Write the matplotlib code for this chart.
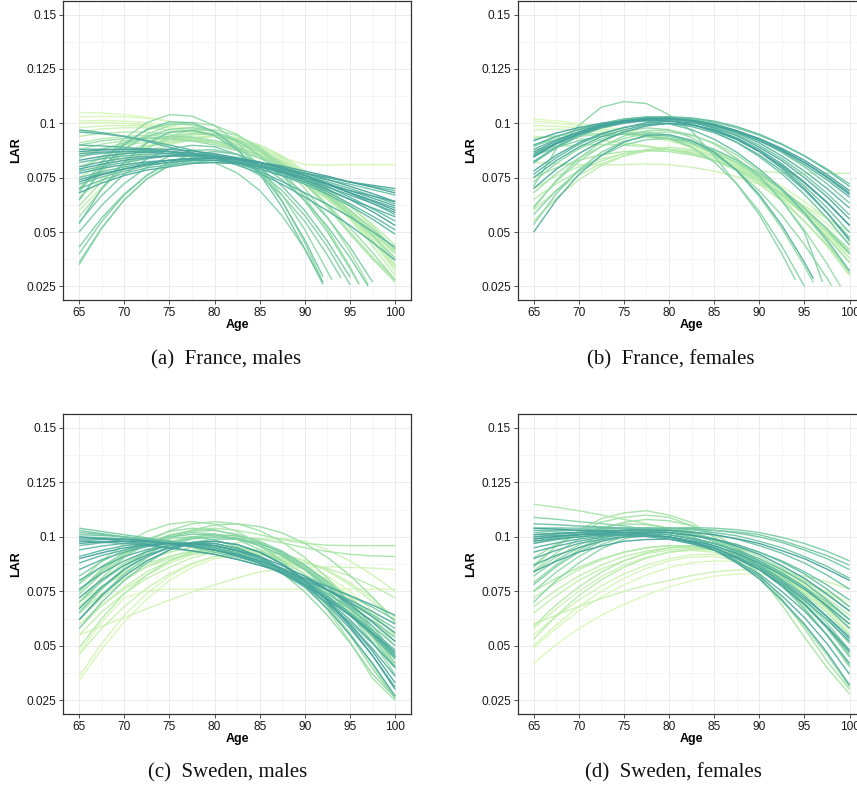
import matplotlib
matplotlib.use("Agg")
import matplotlib.pyplot as plt
from matplotlib.colors import LinearSegmentedColormap

# ---------------- data ----------------
age_grid = [65, 67.5, 70, 72.5, 75, 77.5, 80, 82.5, 85, 87.5, 90, 92.5, 95, 97.5, 100]
x_ticks = [65, 70, 75, 80, 85, 90, 95, 100]
y_ticks = [0.025, 0.05, 0.075, 0.1, 0.125, 0.15]
y_ticklabels = ["0.025", "0.05", "0.075", "0.1", "0.125", "0.15"]
captions = ["(a)  France, males", "(b)  France, females",
            "(c)  Sweden, males", "(d)  Sweden, females"]

# France, males (earliest year -> latest year); last value sits at the end age
fm_curves = [
    [0.105, 0.1048, 0.104, 0.1028, 0.101, 0.0989, 0.096, 0.092, 0.087, 0.081, 0.074, 0.0655, 0.056, 0.0459, 0.035],
    [0.103, 0.1032, 0.103, 0.1023, 0.101, 0.0989, 0.096, 0.0925, 0.088, 0.082, 0.075, 0.0671, 0.058, 0.0485, 0.038],
    [0.101, 0.1013, 0.101, 0.1003, 0.099, 0.0974, 0.095, 0.0918, 0.088, 0.0842, 0.081, 0.0808, 0.081, 0.081, 0.081],
    [0.100, 0.1003, 0.100, 0.0993, 0.098, 0.0963, 0.094, 0.0905, 0.086, 0.0805, 0.074, 0.0670, 0.059, 0.0500, 0.040],
    [0.098, 0.0988, 0.099, 0.0988, 0.098, 0.0964, 0.094, 0.0905, 0.086, 0.0801, 0.073, 0.0652, 0.056, 0.0452, 0.033],
    [0.096, 0.0974, 0.098, 0.0979, 0.097, 0.0959, 0.094, 0.0910, 0.087, 0.0816, 0.075, 0.0679, 0.060, 0.0514, 0.042],
    [0.070, 0.0778, 0.084, 0.0888, 0.092, 0.0945, 0.095, 0.0935, 0.090, 0.0844, 0.077, 0.0684, 0.058, 0.0458, 0.032],
    [0.060, 0.0705, 0.079, 0.0855, 0.090, 0.0929, 0.094, 0.0930, 0.090, 0.0850, 0.078, 0.0698, 0.060, 0.0484, 0.035],
    [0.066, 0.0741, 0.081, 0.0867, 0.091, 0.0934, 0.094, 0.0925, 0.089, 0.0835, 0.076, 0.0668, 0.056, 0.0437, 0.030],
    [0.075, 0.0811, 0.086, 0.0896, 0.092, 0.0935, 0.094, 0.0918, 0.088, 0.0825, 0.075, 0.0667, 0.057, 0.0462, 0.034],
    [0.086, 0.0883, 0.090, 0.0913, 0.092, 0.0919, 0.091, 0.0890, 0.086, 0.0816, 0.076, 0.0695, 0.062, 0.0535, 0.044],
    [0.080, 0.0839, 0.087, 0.0894, 0.091, 0.0919, 0.092, 0.0902, 0.087, 0.0826, 0.077, 0.0701, 0.062, 0.0526, 0.042],
    [0.094, 0.0954, 0.096, 0.0959, 0.095, 0.0934, 0.091, 0.0879, 0.084, 0.0786, 0.072, 0.0650, 0.057, 0.0476, 0.037],
    [0.091, 0.0929, 0.094, 0.0944, 0.094, 0.0929, 0.091, 0.0880, 0.084, 0.0790, 0.073, 0.0660, 0.058, 0.0494, 0.040],
    [0.088, 0.0904, 0.092, 0.0929, 0.093, 0.0925, 0.091, 0.0885, 0.085, 0.0801, 0.074, 0.0670, 0.059, 0.0504, 0.041],
    [0.070, 0.0790, 0.086, 0.0910, 0.094, 0.0954, 0.095, 0.0925, 0.088, 0.0815, 0.073, 0.0624, 0.050, 0.0385, 0.028],
    [0.062, 0.0732, 0.082, 0.0886, 0.093, 0.0951, 0.095, 0.0925, 0.088, 0.0812, 0.072, 0.0615, 0.049, 0.0375, 0.027],
    [0.057, 0.0697, 0.080, 0.0882, 0.094, 0.0969, 0.097, 0.0944, 0.089, 0.0807, 0.070, 0.0568, 0.041, 0.026],
    [0.065, 0.0780, 0.088, 0.0949, 0.099, 0.1004, 0.099, 0.0949, 0.088, 0.0784, 0.066, 0.0514, 0.034, 0.026],
    [0.078, 0.0848, 0.090, 0.0938, 0.096, 0.0964, 0.095, 0.0918, 0.087, 0.0804, 0.072, 0.0627, 0.052, 0.0405, 0.028],
    [0.084, 0.0880, 0.091, 0.0931, 0.094, 0.0937, 0.092, 0.0891, 0.085, 0.0801, 0.074, 0.0665, 0.058, 0.0485, 0.038],
    [0.090, 0.0919, 0.093, 0.0934, 0.093, 0.0919, 0.090, 0.0875, 0.084, 0.0795, 0.074, 0.0675, 0.060, 0.0515, 0.042],
    [0.068, 0.0823, 0.093, 0.1003, 0.104, 0.1033, 0.099, 0.0913, 0.080, 0.0643, 0.045, 0.027],
    [0.0698, 0.0819, 0.091, 0.0969, 0.0998, 0.0994, 0.096, 0.0894, 0.0798, 0.0669, 0.051, 0.028],
    [0.0692, 0.0800, 0.0882, 0.0940, 0.0972, 0.0980, 0.0962, 0.0920, 0.0852, 0.0760, 0.0642, 0.0500, 0.0332, 0.026],
    [0.035, 0.0517, 0.0648, 0.0744, 0.0804, 0.0829, 0.0819, 0.0772, 0.0691, 0.0574, 0.0421, 0.027],
    [0.036, 0.0519, 0.0648, 0.0744, 0.0810, 0.0844, 0.0848, 0.0819, 0.0760, 0.0669, 0.0548, 0.0394, 0.0288],
    [0.0399, 0.0549, 0.0670, 0.0761, 0.0822, 0.0855, 0.0858, 0.0831, 0.0775, 0.0690, 0.0576, 0.0432, 0.0258],
    [0.0431, 0.0565, 0.0675, 0.0760, 0.0821, 0.0858, 0.0870, 0.0858, 0.0821, 0.0760, 0.0675, 0.0565, 0.0431, 0.0270],
    [0.050, 0.0623, 0.0723, 0.0798, 0.0849, 0.0876, 0.0878, 0.0856, 0.0810, 0.0740, 0.0645, 0.0526, 0.0383, 0.0251],
    [0.0545, 0.0668, 0.0766, 0.0836, 0.0881, 0.0899, 0.0892, 0.0857, 0.0797, 0.0710, 0.0598, 0.0458, 0.0293],
    [0.0538, 0.0699, 0.0823, 0.0909, 0.0958, 0.0969, 0.0943, 0.0879, 0.0778, 0.0639, 0.0463, 0.0295],
    [0.0647, 0.0793, 0.0902, 0.0973, 0.1007, 0.1003, 0.0962, 0.0883, 0.0767, 0.0613, 0.0422, 0.026],
    [0.072, 0.0753, 0.078, 0.0805, 0.082, 0.0829, 0.083, 0.0824, 0.081, 0.0792, 0.077, 0.0750, 0.073, 0.0710, 0.069],
    [0.070, 0.0739, 0.077, 0.0795, 0.081, 0.0819, 0.082, 0.0814, 0.080, 0.0782, 0.076, 0.0740, 0.072, 0.0695, 0.067],
    [0.075, 0.0777, 0.080, 0.0818, 0.083, 0.0839, 0.084, 0.0829, 0.081, 0.0788, 0.076, 0.0731, 0.070, 0.0666, 0.063],
    [0.078, 0.0802, 0.082, 0.0837, 0.085, 0.0854, 0.085, 0.0839, 0.082, 0.0794, 0.076, 0.0724, 0.068, 0.0632, 0.058],
    [0.082, 0.0837, 0.085, 0.0858, 0.086, 0.0858, 0.085, 0.0833, 0.081, 0.0784, 0.075, 0.0709, 0.066, 0.0607, 0.055],
    [0.085, 0.0862, 0.087, 0.0873, 0.087, 0.0863, 0.085, 0.0829, 0.080, 0.0771, 0.073, 0.0684, 0.063, 0.0573, 0.051],
    [0.090, 0.0896, 0.089, 0.0881, 0.087, 0.0857, 0.084, 0.0818, 0.079, 0.0758, 0.072, 0.0674, 0.062, 0.0559, 0.049],
    [0.096, 0.0952, 0.094, 0.0922, 0.090, 0.0877, 0.085, 0.0818, 0.078, 0.0732, 0.068, 0.0627, 0.057, 0.0502, 0.043],
    [0.097, 0.0957, 0.094, 0.0917, 0.089, 0.0866, 0.084, 0.0808, 0.077, 0.0719, 0.066, 0.0598, 0.053, 0.0453, 0.037],
    [0.088, 0.0881, 0.088, 0.0877, 0.087, 0.0857, 0.084, 0.0817, 0.079, 0.0762, 0.073, 0.0692, 0.065, 0.0611, 0.057],
    [0.080, 0.0823, 0.084, 0.0849, 0.085, 0.0849, 0.084, 0.0823, 0.080, 0.0777, 0.075, 0.0717, 0.068, 0.0646, 0.061],
    [0.068, 0.0725, 0.076, 0.0785, 0.080, 0.0815, 0.082, 0.0814, 0.080, 0.0787, 0.077, 0.0752, 0.073, 0.0715, 0.070],
    [0.074, 0.0768, 0.079, 0.0809, 0.082, 0.0829, 0.083, 0.0819, 0.080, 0.0778, 0.075, 0.0722, 0.069, 0.0656, 0.062],
    [0.086, 0.0868, 0.087, 0.0868, 0.086, 0.0853, 0.084, 0.0822, 0.080, 0.0772, 0.074, 0.0707, 0.067, 0.0632, 0.059],
    [0.077, 0.0793, 0.081, 0.0823, 0.083, 0.0834, 0.083, 0.0818, 0.080, 0.0778, 0.075, 0.0721, 0.069, 0.0666, 0.064],
    [0.083, 0.0848, 0.086, 0.0868, 0.087, 0.0863, 0.085, 0.0833, 0.081, 0.0778, 0.074, 0.0697, 0.065, 0.0594, 0.053],
    [0.079, 0.0812, 0.083, 0.0842, 0.085, 0.0853, 0.085, 0.0838, 0.082, 0.0797, 0.077, 0.0742, 0.071, 0.0677, 0.064],
    [0.073, 0.0763, 0.079, 0.0813, 0.083, 0.0838, 0.084, 0.0834, 0.082, 0.0803, 0.078, 0.0757, 0.073, 0.0706, 0.068],
    [0.087, 0.0877, 0.088, 0.0883, 0.088, 0.0873, 0.086, 0.0842, 0.082, 0.0792, 0.076, 0.0722, 0.068, 0.0642, 0.060],
]
fm_end_age = ([100] * 17 + [97, 96, 100, 100, 100, 92, 93, 96, 92, 94, 95, 97.5, 97, 95, 92, 92]
              + [100] * 19)

# France, females
ff_curves = [
    [0.102, 0.1011, 0.100, 0.0986, 0.097, 0.0953, 0.093, 0.0898, 0.086, 0.0806, 0.074, 0.0665, 0.058, 0.0485, 0.038],
    [0.101, 0.1001, 0.099, 0.0976, 0.096, 0.0943, 0.092, 0.0888, 0.085, 0.0796, 0.073, 0.0659, 0.058, 0.0494, 0.040],
    [0.099, 0.0986, 0.098, 0.0971, 0.096, 0.0943, 0.092, 0.0893, 0.086, 0.0815, 0.076, 0.0695, 0.062, 0.0539, 0.045],
    [0.097, 0.0973, 0.097, 0.0962, 0.095, 0.0938, 0.092, 0.0894, 0.086, 0.0820, 0.077, 0.0710, 0.064, 0.0564, 0.048],
    [0.082, 0.0814, 0.081, 0.0810, 0.081, 0.0813, 0.081, 0.0798, 0.078, 0.0755, 0.072, 0.0673, 0.062, 0.0562, 0.050],
    [0.094, 0.0936, 0.093, 0.0921, 0.091, 0.0897, 0.088, 0.0857, 0.083, 0.0803, 0.078, 0.0772, 0.077, 0.0770, 0.077],
    [0.070, 0.0757, 0.080, 0.0837, 0.086, 0.0877, 0.088, 0.0867, 0.084, 0.0797, 0.074, 0.0667, 0.058, 0.0477, 0.036],
    [0.060, 0.0690, 0.076, 0.0815, 0.085, 0.0872, 0.088, 0.0873, 0.085, 0.0808, 0.075, 0.0683, 0.060, 0.0497, 0.038],
    [0.055, 0.0655, 0.074, 0.0805, 0.085, 0.0879, 0.089, 0.0880, 0.085, 0.0805, 0.074, 0.0655, 0.055, 0.0435, 0.030],
    [0.065, 0.0721, 0.078, 0.0827, 0.086, 0.0877, 0.088, 0.0864, 0.083, 0.0783, 0.072, 0.0643, 0.055, 0.0442, 0.032],
    [0.088, 0.0893, 0.090, 0.0903, 0.090, 0.0893, 0.088, 0.0862, 0.083, 0.0788, 0.073, 0.0667, 0.059, 0.0502, 0.040],
    [0.075, 0.0795, 0.083, 0.0855, 0.087, 0.0875, 0.087, 0.0855, 0.083, 0.0791, 0.074, 0.0676, 0.060, 0.0516, 0.042],
    [0.093, 0.0943, 0.095, 0.0953, 0.095, 0.0943, 0.093, 0.0905, 0.087, 0.0822, 0.076, 0.0692, 0.061, 0.0517, 0.041],
    [0.090, 0.0924, 0.094, 0.0949, 0.095, 0.0944, 0.093, 0.0905, 0.087, 0.0817, 0.075, 0.0672, 0.058, 0.0478, 0.036],
    [0.068, 0.0768, 0.084, 0.0893, 0.093, 0.0953, 0.096, 0.0945, 0.091, 0.0855, 0.078, 0.0690, 0.058, 0.0454, 0.031],
    [0.0617, 0.0732, 0.0824, 0.0894, 0.0941, 0.0966, 0.0968, 0.0948, 0.0905, 0.0840, 0.0752, 0.0642, 0.0509, 0.0354, 0.025],
    [0.0608, 0.0737, 0.0839, 0.0913, 0.0960, 0.0979, 0.0971, 0.0935, 0.0872, 0.0781, 0.0663, 0.0517, 0.0344, 0.0267],
    [0.073, 0.0816, 0.0882, 0.0928, 0.0954, 0.0960, 0.0946, 0.0912, 0.0858, 0.0784, 0.0690, 0.0576, 0.0442, 0.0288, 0.0254],
    [0.071, 0.0881, 0.099, 0.1074, 0.110, 0.1091, 0.104, 0.0965, 0.085, 0.072, 0.058, 0.040, 0.028],
    [0.0534, 0.0675, 0.0786, 0.0867, 0.0918, 0.0939, 0.0930, 0.0891, 0.0822, 0.0723, 0.0594, 0.0435, 0.0250],
    [0.058, 0.069, 0.078, 0.085, 0.090, 0.0925, 0.093, 0.0915, 0.088, 0.083, 0.076, 0.0645, 0.050, 0.027],
    [0.085, 0.0889, 0.092, 0.0940, 0.095, 0.0950, 0.094, 0.0917, 0.088, 0.0833, 0.077, 0.0697, 0.061, 0.0512, 0.040],
    [0.0893, 0.0937, 0.0973, 0.1000, 0.1019, 0.1028, 0.1029, 0.1021, 0.1005, 0.0979, 0.0945, 0.0902, 0.0851, 0.0790, 0.0721],
    [0.0854, 0.0911, 0.0957, 0.0992, 0.1016, 0.1028, 0.1029, 0.1019, 0.0998, 0.0965, 0.0921, 0.0866, 0.0800, 0.0722, 0.0633],
    [0.0824, 0.0888, 0.0939, 0.0978, 0.1004, 0.1018, 0.1019, 0.1008, 0.0984, 0.0948, 0.0899, 0.0838, 0.0764, 0.0678, 0.0579],
    [0.0844, 0.0909, 0.0960, 0.0997, 0.1020, 0.1030, 0.1026, 0.1008, 0.0976, 0.0931, 0.0872, 0.0799, 0.0712, 0.0612, 0.0498],
    [0.0817, 0.0888, 0.0943, 0.0984, 0.1009, 0.1020, 0.1015, 0.0996, 0.0961, 0.0912, 0.0847, 0.0768, 0.0673, 0.0564, 0.0439],
    [0.0823, 0.0893, 0.0946, 0.0984, 0.1005, 0.1010, 0.0998, 0.0971, 0.0927, 0.0867, 0.0790, 0.0698, 0.0589, 0.0464, 0.0322],
    [0.085, 0.0905, 0.095, 0.0985, 0.101, 0.1025, 0.103, 0.1025, 0.101, 0.0985, 0.095, 0.0905, 0.085, 0.0785, 0.071],
    [0.0765, 0.0841, 0.0903, 0.0949, 0.0981, 0.0997, 0.0999, 0.0985, 0.0957, 0.0913, 0.0855, 0.0781, 0.0693, 0.0589, 0.0471],
    [0.090, 0.0940, 0.097, 0.0995, 0.101, 0.1020, 0.102, 0.1010, 0.099, 0.0960, 0.092, 0.0870, 0.081, 0.0740, 0.066],
    [0.088, 0.0925, 0.096, 0.0990, 0.101, 0.1020, 0.102, 0.1010, 0.099, 0.0955, 0.091, 0.0850, 0.078, 0.0700, 0.061],
    [0.0499, 0.0646, 0.0764, 0.0853, 0.0913, 0.0945, 0.0948, 0.0922, 0.0867, 0.0784, 0.0672, 0.0531, 0.0361, 0.0285],
    [0.075, 0.0828, 0.089, 0.0938, 0.097, 0.0993, 0.100, 0.0993, 0.097, 0.0933, 0.088, 0.0813, 0.073, 0.0638, 0.053],
    [0.078, 0.0853, 0.091, 0.0953, 0.098, 0.1003, 0.101, 0.1003, 0.098, 0.0943, 0.089, 0.0828, 0.075, 0.0662, 0.056],
    [0.086, 0.0910, 0.095, 0.0980, 0.100, 0.1015, 0.102, 0.1010, 0.099, 0.0960, 0.092, 0.0875, 0.082, 0.0755, 0.068],
    [0.070, 0.0788, 0.086, 0.0918, 0.096, 0.0988, 0.100, 0.0993, 0.097, 0.0928, 0.087, 0.0793, 0.070, 0.0590, 0.046],
    [0.092, 0.0955, 0.098, 0.1000, 0.101, 0.1020, 0.102, 0.1010, 0.099, 0.0965, 0.093, 0.0885, 0.083, 0.0765, 0.069],
    [0.0868, 0.0919, 0.0960, 0.0991, 0.1012, 0.1023, 0.1024, 0.1015, 0.0996, 0.0967, 0.0928, 0.0879, 0.0820, 0.0751, 0.0672],
    [0.0846, 0.0905, 0.0951, 0.0985, 0.1006, 0.1015, 0.1011, 0.0995, 0.0966, 0.0925, 0.0871, 0.0805, 0.0726, 0.0635, 0.0531],
]
ff_end_age = [100] * 15 + [99, 96, 98, 94, 95, 97] + [100] * 11 + [96] + [100] * 7

# Sweden, males
sm_curves = [
    [0.047, 0.0610, 0.072, 0.0753, 0.076, 0.076, 0.076, 0.076, 0.076, 0.076, 0.076, 0.076, 0.076, 0.076, 0.076],
    [0.034, 0.0485, 0.061, 0.0715, 0.080, 0.0860, 0.090, 0.0915, 0.092, 0.0905, 0.087, 0.0820, 0.075, 0.0660, 0.055],
    [0.036, 0.0510, 0.064, 0.0740, 0.082, 0.0875, 0.091, 0.0920, 0.092, 0.0900, 0.086, 0.0805, 0.073, 0.0635, 0.052],
    [0.055, 0.0590, 0.063, 0.0670, 0.071, 0.0747, 0.078, 0.0812, 0.084, 0.0853, 0.086, 0.0863, 0.086, 0.0857, 0.085],
    [0.060, 0.0685, 0.076, 0.0825, 0.088, 0.0918, 0.095, 0.0973, 0.099, 0.0993, 0.098, 0.0940, 0.089, 0.0825, 0.075],
    [0.046, 0.0580, 0.068, 0.0765, 0.083, 0.0879, 0.091, 0.0929, 0.093, 0.0918, 0.089, 0.0848, 0.079, 0.0718, 0.063],
    [0.055, 0.0655, 0.074, 0.0810, 0.086, 0.0904, 0.093, 0.0945, 0.094, 0.0923, 0.089, 0.0843, 0.078, 0.0703, 0.061],
    [0.058, 0.0685, 0.077, 0.0840, 0.089, 0.0925, 0.094, 0.0945, 0.093, 0.0903, 0.086, 0.0800, 0.072, 0.0630, 0.052],
    [0.062, 0.0720, 0.080, 0.0865, 0.091, 0.0938, 0.095, 0.0950, 0.093, 0.0900, 0.085, 0.0785, 0.070, 0.0610, 0.050],
    [0.065, 0.0738, 0.081, 0.0863, 0.090, 0.0920, 0.093, 0.0930, 0.092, 0.0905, 0.088, 0.0855, 0.082, 0.0775, 0.072],
    [0.070, 0.0773, 0.083, 0.0878, 0.091, 0.0932, 0.094, 0.0938, 0.092, 0.0893, 0.085, 0.0793, 0.072, 0.0643, 0.055],
    [0.068, 0.0768, 0.084, 0.0893, 0.093, 0.0953, 0.096, 0.0953, 0.093, 0.0888, 0.083, 0.0753, 0.066, 0.0560, 0.044],
    [0.049, 0.0625, 0.074, 0.0825, 0.089, 0.0930, 0.095, 0.0950, 0.093, 0.0890, 0.083, 0.0750, 0.065, 0.0535, 0.040],
    [0.075, 0.0843, 0.092, 0.0970, 0.101, 0.1030, 0.104, 0.1030, 0.101, 0.0988, 0.097, 0.0962, 0.096, 0.0960, 0.096],
    [0.072, 0.0805, 0.088, 0.0935, 0.098, 0.1000, 0.101, 0.1003, 0.099, 0.0973, 0.095, 0.0933, 0.092, 0.0913, 0.091],
    [0.0789, 0.0890, 0.0969, 0.1025, 0.1059, 0.1070, 0.1059, 0.1025, 0.0969, 0.0890, 0.0789, 0.0665, 0.0519, 0.0350, 0.025],
    [0.0699, 0.0812, 0.0905, 0.0977, 0.1029, 0.1060, 0.1070, 0.1060, 0.1029, 0.0977, 0.0905, 0.0812, 0.0699, 0.0565, 0.0410],
    [0.0655, 0.0766, 0.0858, 0.0934, 0.0991, 0.1032, 0.1054, 0.1060, 0.1047, 0.1018, 0.0970, 0.0906, 0.0823, 0.0724, 0.0606],
    [0.0753, 0.0853, 0.0931, 0.0989, 0.1025, 0.1040, 0.1033, 0.1006, 0.0957, 0.0887, 0.0795, 0.0683, 0.0549, 0.0394, 0.026],
    [0.0750, 0.0844, 0.0918, 0.0972, 0.1006, 0.1020, 0.1014, 0.0988, 0.0942, 0.0876, 0.0790, 0.0684, 0.0558, 0.0412, 0.026],
    [0.0736, 0.0832, 0.0908, 0.0967, 0.1006, 0.1027, 0.1029, 0.1012, 0.0976, 0.0922, 0.0849, 0.0757, 0.0646, 0.0517, 0.0369],
    [0.0784, 0.0865, 0.0927, 0.0970, 0.0994, 0.1000, 0.0987, 0.0955, 0.0904, 0.0835, 0.0747, 0.0640, 0.0514, 0.0370, 0.0262],
    [0.065, 0.0760, 0.085, 0.0920, 0.097, 0.0999, 0.101, 0.1005, 0.098, 0.0935, 0.087, 0.0785, 0.068, 0.0560, 0.042],
    [0.062, 0.0735, 0.083, 0.0905, 0.096, 0.0990, 0.100, 0.0995, 0.097, 0.0925, 0.086, 0.0775, 0.067, 0.0545, 0.040],
    [0.070, 0.0795, 0.087, 0.0930, 0.097, 0.0995, 0.100, 0.0990, 0.096, 0.0915, 0.085, 0.0775, 0.068, 0.0575, 0.045],
    [0.082, 0.0887, 0.094, 0.0977, 0.100, 0.1012, 0.101, 0.0992, 0.096, 0.0913, 0.085, 0.0773, 0.068, 0.0573, 0.045],
    [0.058, 0.0700, 0.080, 0.0880, 0.094, 0.0975, 0.099, 0.0990, 0.097, 0.0930, 0.087, 0.0795, 0.070, 0.0590, 0.046],
    [0.104, 0.1025, 0.101, 0.0996, 0.098, 0.0962, 0.094, 0.0917, 0.089, 0.0857, 0.082, 0.0777, 0.073, 0.0677, 0.062],
    [0.103, 0.1015, 0.100, 0.0986, 0.097, 0.0952, 0.093, 0.0907, 0.088, 0.0843, 0.080, 0.0753, 0.070, 0.0643, 0.058],
    [0.102, 0.1012, 0.100, 0.0987, 0.097, 0.0957, 0.094, 0.0913, 0.088, 0.0840, 0.079, 0.0740, 0.068, 0.0615, 0.054],
    [0.101, 0.1007, 0.100, 0.0992, 0.098, 0.0968, 0.095, 0.0925, 0.089, 0.0850, 0.080, 0.0740, 0.067, 0.0590, 0.050],
    [0.100, 0.0997, 0.099, 0.0982, 0.097, 0.0958, 0.094, 0.0915, 0.088, 0.0835, 0.078, 0.0715, 0.064, 0.0555, 0.046],
    [0.098, 0.0988, 0.099, 0.0988, 0.098, 0.0968, 0.095, 0.0925, 0.089, 0.0845, 0.079, 0.0720, 0.064, 0.0545, 0.044],
    [0.096, 0.0973, 0.098, 0.0983, 0.098, 0.0968, 0.095, 0.0920, 0.088, 0.0830, 0.077, 0.0695, 0.061, 0.0510, 0.040],
    [0.094, 0.0958, 0.097, 0.0973, 0.097, 0.0963, 0.095, 0.0925, 0.089, 0.0845, 0.079, 0.0720, 0.064, 0.0550, 0.045],
    [0.091, 0.0938, 0.096, 0.0968, 0.097, 0.0963, 0.095, 0.0925, 0.089, 0.0845, 0.079, 0.0725, 0.065, 0.0570, 0.048],
    [0.088, 0.0915, 0.094, 0.0960, 0.097, 0.0970, 0.096, 0.0935, 0.090, 0.0855, 0.080, 0.0730, 0.065, 0.0555, 0.045],
    [0.085, 0.0895, 0.093, 0.0955, 0.097, 0.0970, 0.096, 0.0935, 0.090, 0.0850, 0.079, 0.0710, 0.062, 0.0515, 0.040],
    [0.080, 0.0862, 0.091, 0.0942, 0.096, 0.0967, 0.096, 0.0937, 0.090, 0.0847, 0.078, 0.0697, 0.060, 0.0487, 0.036],
    [0.076, 0.0833, 0.089, 0.0933, 0.096, 0.0973, 0.097, 0.0948, 0.091, 0.0853, 0.078, 0.0690, 0.058, 0.0455, 0.031],
    [0.072, 0.0803, 0.087, 0.0918, 0.095, 0.0968, 0.097, 0.0948, 0.091, 0.0850, 0.077, 0.0670, 0.055, 0.0420, 0.027],
    [0.098, 0.0976, 0.097, 0.0961, 0.095, 0.0936, 0.092, 0.0897, 0.087, 0.0842, 0.081, 0.0772, 0.073, 0.0687, 0.064],
    [0.100, 0.0991, 0.098, 0.0966, 0.095, 0.0936, 0.092, 0.0897, 0.087, 0.0837, 0.080, 0.0757, 0.071, 0.0657, 0.060],
    [0.067, 0.0770, 0.085, 0.0910, 0.095, 0.0975, 0.098, 0.0965, 0.093, 0.0875, 0.080, 0.0710, 0.060, 0.0475, 0.033],
    [0.062, 0.0730, 0.082, 0.0890, 0.094, 0.0970, 0.098, 0.0965, 0.093, 0.0875, 0.080, 0.0705, 0.059, 0.0455, 0.030],
    [0.099, 0.0992, 0.099, 0.0982, 0.097, 0.0957, 0.094, 0.0918, 0.089, 0.0852, 0.081, 0.0758, 0.070, 0.0633, 0.056],
    [0.097, 0.0978, 0.098, 0.0978, 0.097, 0.0958, 0.094, 0.0913, 0.088, 0.0833, 0.078, 0.0713, 0.064, 0.0558, 0.047],
    [0.090, 0.0927, 0.095, 0.0963, 0.097, 0.0968, 0.096, 0.0938, 0.091, 0.0868, 0.082, 0.0758, 0.069, 0.0608, 0.052],
]
sm_end_age = [100] * len(sm_curves)

# Sweden, females
sf_curves = [
    [0.042, 0.0505, 0.058, 0.0640, 0.069, 0.0735, 0.077, 0.0799, 0.082, 0.0830, 0.083, 0.0815, 0.079, 0.0750, 0.070],
    [0.049, 0.0580, 0.066, 0.0725, 0.078, 0.0825, 0.086, 0.0881, 0.089, 0.0888, 0.087, 0.0842, 0.080, 0.0745, 0.068],
    [0.050, 0.0595, 0.068, 0.0750, 0.081, 0.0855, 0.089, 0.0908, 0.091, 0.0893, 0.086, 0.0815, 0.075, 0.0670, 0.058],
    [0.055, 0.0635, 0.071, 0.0775, 0.083, 0.0871, 0.090, 0.0918, 0.092, 0.0908, 0.088, 0.0837, 0.078, 0.0707, 0.062],
    [0.058, 0.0670, 0.075, 0.0817, 0.087, 0.0907, 0.093, 0.0938, 0.093, 0.0908, 0.087, 0.0818, 0.075, 0.0665, 0.056],
    [0.060, 0.0641, 0.068, 0.0717, 0.075, 0.0778, 0.080, 0.0823, 0.084, 0.0848, 0.085, 0.0840, 0.082, 0.0795, 0.076],
    [0.065, 0.0730, 0.080, 0.0853, 0.089, 0.0923, 0.094, 0.0948, 0.094, 0.0918, 0.088, 0.0828, 0.076, 0.0678, 0.058],
    [0.068, 0.0755, 0.082, 0.0870, 0.091, 0.0935, 0.095, 0.0953, 0.094, 0.0918, 0.088, 0.0828, 0.076, 0.0688, 0.060],
    [0.072, 0.0790, 0.085, 0.0895, 0.093, 0.0950, 0.096, 0.0958, 0.094, 0.0913, 0.087, 0.0818, 0.075, 0.0673, 0.058],
    [0.053, 0.0638, 0.073, 0.0803, 0.086, 0.0903, 0.093, 0.0943, 0.094, 0.0923, 0.089, 0.0848, 0.079, 0.0718, 0.064],
    [0.059, 0.0688, 0.077, 0.0838, 0.089, 0.0928, 0.095, 0.0958, 0.095, 0.0928, 0.089, 0.0838, 0.077, 0.0693, 0.060],
    [0.075, 0.0810, 0.086, 0.0900, 0.093, 0.0950, 0.096, 0.0958, 0.094, 0.0913, 0.087, 0.0813, 0.074, 0.0653, 0.055],
    [0.115, 0.1136, 0.112, 0.1101, 0.108, 0.1061, 0.104, 0.1016, 0.099, 0.0953, 0.091, 0.0858, 0.080, 0.0733, 0.066],
    [0.086, 0.0958, 0.103, 0.1084, 0.111, 0.1120, 0.110, 0.1066, 0.100, 0.0922, 0.082, 0.0688, 0.054, 0.0400, 0.028],
    [0.087, 0.0956, 0.102, 0.1068, 0.109, 0.1100, 0.109, 0.1052, 0.100, 0.0924, 0.083, 0.0716, 0.058, 0.0430, 0.030],
    [0.0843, 0.0926, 0.0990, 0.1038, 0.1067, 0.1080, 0.1074, 0.1052, 0.1011, 0.0954, 0.0878, 0.0786, 0.0675, 0.0548, 0.0402],
    [0.0903, 0.0966, 0.1013, 0.1044, 0.1059, 0.1057, 0.1039, 0.1005, 0.0955, 0.0888, 0.0805, 0.0706, 0.0591, 0.0459, 0.0311],
    [0.0837, 0.0908, 0.0963, 0.1004, 0.1029, 0.1040, 0.1035, 0.1016, 0.0981, 0.0932, 0.0867, 0.0788, 0.0693, 0.0584, 0.0459],
    [0.079, 0.0872, 0.094, 0.0990, 0.102, 0.1038, 0.104, 0.1025, 0.099, 0.0945, 0.088, 0.0800, 0.070, 0.0585, 0.045],
    [0.075, 0.0838, 0.091, 0.0965, 0.100, 0.1023, 0.103, 0.1020, 0.099, 0.0945, 0.088, 0.0805, 0.071, 0.0605, 0.048],
    [0.070, 0.0800, 0.088, 0.0945, 0.099, 0.1013, 0.102, 0.1013, 0.099, 0.0950, 0.089, 0.0820, 0.073, 0.0630, 0.051],
    [0.082, 0.0893, 0.095, 0.0993, 0.102, 0.1033, 0.103, 0.1015, 0.098, 0.0935, 0.087, 0.0790, 0.069, 0.0580, 0.045],
    [0.109, 0.1081, 0.107, 0.1061, 0.105, 0.1036, 0.102, 0.0998, 0.097, 0.0935, 0.089, 0.0835, 0.077, 0.0700, 0.062],
    [0.078, 0.0863, 0.093, 0.0978, 0.101, 0.1028, 0.103, 0.1013, 0.098, 0.0928, 0.086, 0.0775, 0.067, 0.0550, 0.041],
    [0.097, 0.0992, 0.101, 0.1022, 0.103, 0.1036, 0.104, 0.1043, 0.104, 0.1033, 0.102, 0.0998, 0.097, 0.0934, 0.089],
    [0.098, 0.0997, 0.101, 0.1022, 0.103, 0.1036, 0.104, 0.1038, 0.103, 0.1023, 0.101, 0.0983, 0.095, 0.0914, 0.087],
    [0.100, 0.1012, 0.102, 0.1027, 0.103, 0.1036, 0.104, 0.1038, 0.103, 0.1018, 0.100, 0.0975, 0.094, 0.0900, 0.085],
    [0.102, 0.1027, 0.103, 0.1037, 0.104, 0.1042, 0.104, 0.1033, 0.102, 0.1005, 0.098, 0.0950, 0.091, 0.0865, 0.081],
    [0.104, 0.1041, 0.104, 0.1042, 0.104, 0.1037, 0.103, 0.1023, 0.101, 0.0990, 0.096, 0.0925, 0.088, 0.0825, 0.076],
    [0.106, 0.1056, 0.105, 0.1046, 0.104, 0.1032, 0.102, 0.1008, 0.099, 0.0965, 0.093, 0.0890, 0.084, 0.0780, 0.071],
    [0.103, 0.1031, 0.103, 0.1032, 0.103, 0.1027, 0.102, 0.1008, 0.099, 0.0965, 0.093, 0.0885, 0.083, 0.0760, 0.068],
    [0.101, 0.1016, 0.102, 0.1022, 0.102, 0.1017, 0.101, 0.0993, 0.097, 0.0940, 0.090, 0.0850, 0.079, 0.0710, 0.062],
    [0.099, 0.1002, 0.101, 0.1017, 0.102, 0.1017, 0.101, 0.0993, 0.097, 0.0935, 0.089, 0.0835, 0.077, 0.0680, 0.058],
    [0.097, 0.0987, 0.100, 0.1012, 0.102, 0.1017, 0.101, 0.0990, 0.096, 0.0920, 0.087, 0.0805, 0.073, 0.0635, 0.053],
    [0.095, 0.0972, 0.099, 0.1002, 0.101, 0.1007, 0.100, 0.0980, 0.095, 0.0905, 0.085, 0.0775, 0.069, 0.0590, 0.048],
    [0.093, 0.0957, 0.098, 0.0997, 0.101, 0.1007, 0.100, 0.0975, 0.094, 0.0890, 0.083, 0.0750, 0.066, 0.0550, 0.042],
    [0.090, 0.0938, 0.097, 0.0988, 0.100, 0.1003, 0.100, 0.0975, 0.094, 0.0885, 0.082, 0.0730, 0.063, 0.0510, 0.037],
    [0.087, 0.0915, 0.095, 0.0980, 0.100, 0.1003, 0.100, 0.0975, 0.094, 0.0880, 0.081, 0.0710, 0.060, 0.0470, 0.032],
    [0.100, 0.1007, 0.101, 0.1012, 0.101, 0.1002, 0.099, 0.0968, 0.094, 0.0900, 0.085, 0.0785, 0.071, 0.0620, 0.052],
    [0.098, 0.0992, 0.100, 0.1007, 0.101, 0.1007, 0.100, 0.0978, 0.095, 0.0910, 0.086, 0.0795, 0.072, 0.0635, 0.054],
    [0.084, 0.0888, 0.093, 0.0958, 0.098, 0.0988, 0.099, 0.0973, 0.095, 0.0905, 0.085, 0.0775, 0.069, 0.0585, 0.047],
    [0.104, 0.1036, 0.103, 0.1026, 0.102, 0.1012, 0.100, 0.0982, 0.096, 0.0925, 0.088, 0.0825, 0.076, 0.0685, 0.060],
    [0.101, 0.1017, 0.102, 0.1027, 0.103, 0.1032, 0.103, 0.1022, 0.101, 0.0992, 0.097, 0.0937, 0.090, 0.0852, 0.080],
    [0.099, 0.1002, 0.101, 0.1017, 0.102, 0.1022, 0.102, 0.1007, 0.099, 0.0958, 0.092, 0.0868, 0.081, 0.0738, 0.066],
]
sf_end_age = [100] * len(sf_curves)

panels = [
    (fm_curves, fm_end_age),
    (ff_curves, ff_end_age),
    (sm_curves, sm_end_age),
    (sf_curves, sf_end_age),
]

# ---------------- figure ----------------
W, H = 857, 792
fig = plt.figure(figsize=(W / 100, H / 100), dpi=100)

cmap = LinearSegmentedColormap.from_list(
    "lar", ["#dcf8bc", "#b2e9aa", "#85d3a6", "#5cb8a1", "#43a09c"])

# axes boxes in pixels: left, top, right, bottom
boxes = [
    (63.3, 1.0, 411.0, 300.0),
    (517.7, 1.0, 865.4, 300.0),
    (63.3, 414.3, 411.0, 714.0),
    (517.7, 414.3, 865.4, 714.0),
]
cap_pos = [(226, 360), (671, 360), (228, 773), (673, 773)]

for (curves, ends), box, cap, cpos in zip(panels, boxes, captions, cap_pos):
    l, t, r, b = box
    ax = fig.add_axes([l / W, 1 - b / H, (r - l) / W, (b - t) / H])
    ax.set_xlim(63.25, 101.75)
    ax.set_ylim(0.01875, 0.15625)
    n = len(curves)
    for i, (vals, end) in enumerate(zip(curves, ends)):
        ages = age_grid[:len(vals) - 1] + [end]
        ax.plot(ages, vals, color=cmap(i / (n - 1)), lw=1.0, alpha=0.95,
                solid_capstyle="butt", solid_joinstyle="round", zorder=2)
    # grid
    ax.set_xticks(x_ticks)
    ax.set_xticks([67.5, 72.5, 77.5, 82.5, 87.5, 92.5, 97.5], minor=True)
    ax.set_yticks(y_ticks)
    ax.set_yticks([0.0375, 0.0625, 0.0875, 0.1125, 0.1375], minor=True)
    ax.set_yticklabels(y_ticklabels)
    ax.grid(True, which="major", color="#ebebeb", lw=0.7, zorder=0)
    ax.grid(True, which="minor", color="#f2f2f2", lw=0.5, zorder=0)
    ax.set_axisbelow(True)
    ax.tick_params(axis="both", which="major", length=3, width=0.6,
                   color="#333333", labelsize=8.6, labelcolor="#1a1a1a", pad=2)
    ax.tick_params(axis="both", which="minor", length=0)
    for lab in ax.get_xticklabels() + ax.get_yticklabels():
        lab.set_fontfamily("Liberation Sans")
    for sp in ax.spines.values():
        sp.set_color("#333333")
        sp.set_linewidth(0.9)
    ax.set_xlabel("Age", fontsize=9, fontweight="bold",
                  fontfamily="Liberation Sans", labelpad=0)
    ax.set_ylabel("LAR", fontsize=9, fontweight="bold",
                  fontfamily="Liberation Sans", labelpad=3)
    fig.text(cpos[0] / W, 1 - cpos[1] / H, cap, ha="center", va="center",
             fontsize=15, fontfamily="Liberation Serif", color="#111111")

fig.savefig("out.png", dpi=100, facecolor="white")
